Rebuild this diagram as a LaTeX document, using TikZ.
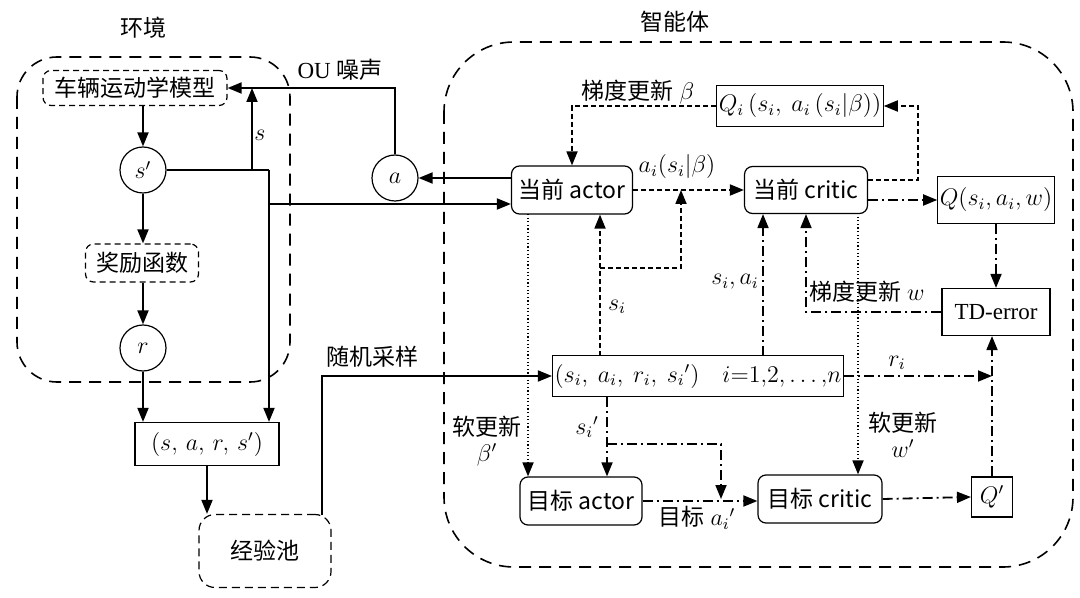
\documentclass[tikz,border=0pt]{standalone}
\usepackage{fontspec}
\setmainfont{Liberation Serif}
\newfontfamily\cjk{Noto Sans CJK SC}
\usepackage{amsmath}
\usetikzlibrary{arrows.meta}

\begin{document}
\begin{tikzpicture}[x=0.5pt,y=-0.5pt,
    font=\fontsize{11.5}{13}\selectfont,
    >={Triangle[length=7pt,width=5.5pt]},
    box/.style={draw,line width=0.6pt,inner sep=1pt},
    rbox/.style={box,rounded corners=4pt},
    dbox/.style={box,rounded corners=4pt,dash pattern=on 3pt off 2pt},
    circ/.style={draw,line width=0.6pt,circle,minimum size=23pt,inner sep=0pt},
    flow/.style={line width=0.9pt},
    grad/.style={line width=0.9pt,dash pattern=on 2.5pt off 1.5pt},
    dd/.style={line width=0.9pt,dash pattern=on 5pt off 2pt on 1pt off 2pt},
    soft/.style={line width=0.9pt,dash pattern=on 0.6pt off 1.2pt},
    group/.style={line width=0.8pt,dash pattern=on 6pt off 4pt,rounded corners=#1}]
        \useasboundingbox (0,0) rectangle (1080,598);

        % environment
        \draw[group=20pt] (17,57) rectangle (290,382);
        \node (envlabel) at (143,28) {\cjk 环境};
        \node[dbox,minimum width=92pt,minimum height=17.5pt] (model) at (135,88) {\cjk 车辆运动学模型};
        \node[circ] (sp) at (143,170) {$s'$};
        \node[dbox,minimum width=56.5pt,minimum height=19pt] (reward) at (142,263) {\cjk 奖励函数};
        \node[circ] (r) at (143,348) {$r$};
        \node[box,minimum width=72pt,minimum height=21.5pt] (sars) at (207,444) {$(s,\,a,\,r,\,s')$};
        \node[box,rounded corners=8pt,dash pattern=on 4pt off 2.5pt,minimum width=66pt,minimum height=36.5pt] (pool) at (265,551) {\cjk 经验池};
        \node[circ] (a) at (395,178) {$a$};

        % agent
        \draw[group=35pt] (444,42) rectangle (1073,567);
        \node (agentlabel) at (675,22) {\cjk 智能体};
        \node[rbox,minimum width=60.5pt,minimum height=24pt] (actor) at (572,190) {\cjk 当前 actor};
        \node[rbox,minimum width=61.5pt,minimum height=23.5pt] (critic) at (806,190) {\cjk 当前 critic};
        \node[box,minimum width=77.5pt,minimum height=20.5pt] (Qi) at (800,106) {$Q_i\,(s_i,\ a_i\,(s_i|\beta))$};
        \node[box,minimum width=57pt,minimum height=23.5pt] (Qw) at (996,200) {$Q(s_i,a_i,w)$};
        \node[box,minimum width=54pt,minimum height=23.5pt] (TD) at (996,312) {TD-error};
        \node[box,minimum width=140pt,minimum height=20.5pt] (batch) at (698,376) {$(s_i,\ a_i,\ r_i,\ s_i{}')\quad i{=}1{,}2{,}\ldots{,}n$};
        \node[rbox,minimum width=61pt,minimum height=24pt] (tactor) at (581,501) {\cjk 目标 actor};
        \node[rbox,minimum width=62pt,minimum height=24pt] (tcritic) at (820,499) {\cjk 目标 critic};
        \node[box,minimum width=20.5pt,minimum height=20pt] (Qp) at (992,497) {$Q'$};

        % labels
        \node (oulabel) at (340,70) {OU {\cjk 噪声}};
        \node (slabel) at (260,135) {$s$};
        \node (samplelabel) at (372,357) {\cjk 随机采样};
        \node (gradbeta) at (638,92) {{\cjk 梯度更新} $\beta$};
        \node (ailabel) at (677,167) {$a_i(s_i|\beta)$};
        \node (silabel) at (617,307) {$s_i$};
        \node (siailabel) at (735,282) {$s_i,a_i$};
        \node (gradw) at (867,292) {{\cjk 梯度更新} $w$};
        \node (rilabel) at (897,363) {$r_i$};
        \node[align=center] (softbeta) at (487,441) {{\cjk 软更新}\\$\beta'$};
        \node (spilabel) at (587,427) {$s_i{}'$};
        \node (talabel) at (697,518) {{\cjk 目标} $a_i{}'$};
        \node[align=center] (softw) at (903,435) {{\cjk 软更新}\\$w'$};

        % environment flow
        \coordinate (sfork) at (252,170);
        \coordinate (sbend) at (269,170);
        \coordinate (sx) at (269,204);
        \coordinate (pooltop) at (322,515);
        \draw[flow,->] (sp.north |- model.south) -- (sp.north);
        \draw[flow,->] (sp.south) -- (reward.north -| sp.south);
        \draw[flow,->] (reward.south -| r.north) -- (r.north);
        \draw[flow,->] (r.south) -- (r.south |- sars.north);
        \draw[flow] (sp.east) -- (sbend);
        \draw[flow,->] (sbend) -- (sbend |- sars.north);
        \draw[flow,->] (sfork) -- (sfork |- model.east);
        \draw[flow,->] (a.north) |- (model.east);
        \draw[flow,->] (sx) -- (actor.west |- sx);
        \draw[flow,->] (actor.west |- a.east) -- (a.east);
        \draw[flow,->] (sars.south) -- (sars.south |- pool.north);
        \draw[flow,->] (pooltop) |- (batch.west);

        % current networks
        \coordinate (si0) at (600,356);
        \coordinate (si1) at (600,268);
        \coordinate (si2) at (681,190);
        \draw[grad,->] (Qi.west) -| (actor.north);
        \draw[grad,->] (actor.east) -- (critic.west);
        \draw[grad,->] ([yshift=5pt]critic.east) -- ++(50,0) |- (Qi.east);
        \draw[grad,->] (si0) -- (si0 |- actor.south);
        \draw[grad,->] (si1) -| (si2);
        \coordinate (sa0) at (763,356);
        \draw[dd,->] (sa0) -- (sa0 |- critic.south);
        \draw[dd,->] (critic.east |- Qw.west) -- (Qw.west);
        \draw[dd,->] (Qw.south) -- (Qw.south |- TD.north);
        \draw[dd,->] (TD.west) -| (critic.south);

        % soft update
        \coordinate (sbeta) at (528,214);
        \coordinate (sw) at (858,213);
        \draw[soft,->] (sbeta) -- (sbeta |- tactor.north);
        \draw[soft,->] (sw) -- (sw |- tcritic.north);

        % target networks
        \coordinate (tp0) at (607,397);
        \coordinate (tp1) at (607,444);
        \coordinate (tp2) at (721,499);
        \draw[dd,->] (tp0) -- (tp0 |- tactor.north);
        \draw[dd,->] (tp1) -| (tp2);
        \draw[dd,->] (tactor.east) -- (tactor.east -| tcritic.west);
        \draw[dd,->] (tcritic.east) -- (Qp.west);
        \draw[dd,->] (Qp.north) -- (Qp.north |- TD.south);
        \draw[dd,->] (batch.east) -- (Qp.north |- batch.east);
\end{tikzpicture}
\end{document}
